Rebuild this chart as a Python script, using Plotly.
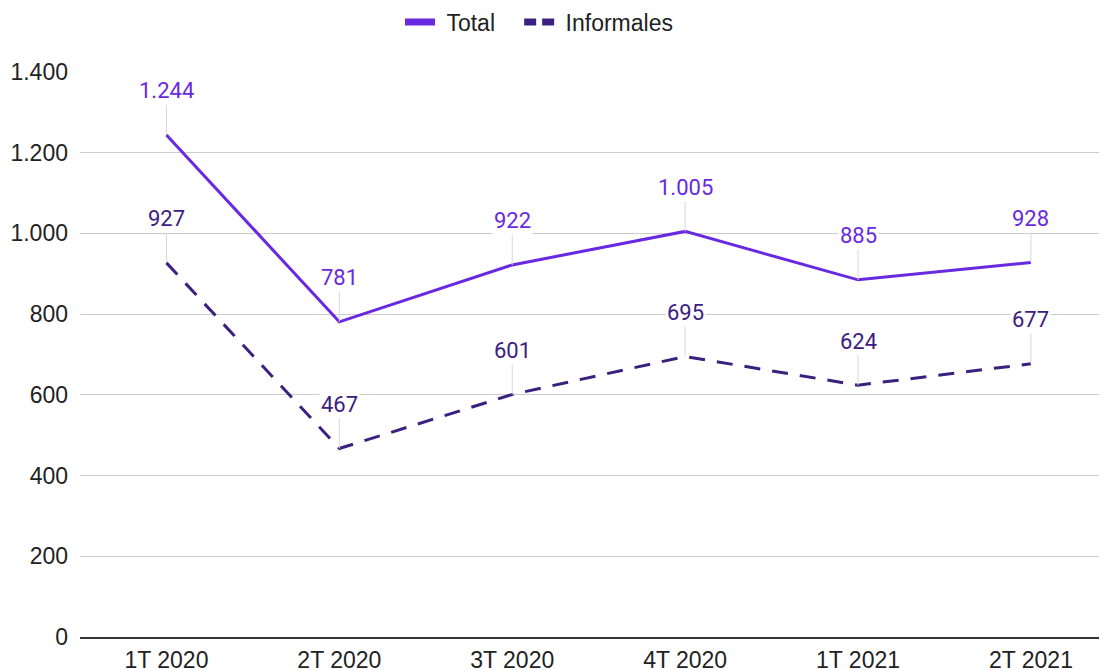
import plotly.graph_objects as go

categories = ["1T 2020", "2T 2020", "3T 2020", "4T 2020", "1T 2021", "2T 2021"]
total = [1244, 781, 922, 1005, 885, 928]
informales = [927, 467, 601, 695, 624, 677]
yticks = [0, 200, 400, 600, 800, 1000, 1200, 1400]

c_total = "#6929E0"
c_inf = "#3C2080"
axis_font = dict(family="Liberation Sans, Arial", size=23, color="#222")

fig = go.Figure()
fig.add_trace(go.Scatter(x=categories, y=total, mode="lines", name="Total",
                         line=dict(color=c_total, width=3), showlegend=False))
fig.add_trace(go.Scatter(x=categories, y=informales, mode="lines", name="Informales",
                         line=dict(color=c_inf, width=3, dash="16px,12px"), showlegend=False))
# legend entries with thick short markers like the reference
fig.add_trace(go.Scatter(x=[None], y=[None], mode="lines", name="\u00a0Total\u00a0\u00a0\u00a0",
                         line=dict(color=c_total, width=7)))
fig.add_trace(go.Scatter(x=[None], y=[None], mode="lines", name="\u00a0Informales",
                         line=dict(color=c_inf, width=7, dash="12px,6px")))

def fmt(v):
    return f"{v:,}".replace(",", ".")

for series, col in ((total, c_total), (informales, c_inf)):
    for cat, v in zip(categories, series):
        fig.add_annotation(x=cat, y=v, text=fmt(v), showarrow=True, arrowhead=0,
                           arrowwidth=1, arrowcolor="#d8d8d8", ax=0, ay=-44,
                           standoff=0, bgcolor="white", borderpad=1,
                           font=dict(family="Roboto", size=22, color=col))

# page body has an 8px margin; size the figure so it ends at the window edge
fig.update_layout(
    width=1099, height=662,
    margin=dict(l=72, r=0, t=64, b=33, autoexpand=False),
    plot_bgcolor="white", paper_bgcolor="white",
    separators=",.",
    showlegend=True,
    legend=dict(orientation="h", x=0.3567, xanchor="left", xref="container",
                y=1 - 14 / 662, yanchor="middle",
                yref="container", font=axis_font, itemwidth=30,
                bgcolor="rgba(0,0,0,0)"),
    xaxis=dict(range=[-0.5, 5.44], showgrid=False, showline=True, linecolor="#333",
               linewidth=1.5, ticks="", tickfont=axis_font, automargin=False,
               ticklabelstandoff=2),
    yaxis=dict(range=[0, 1400], tickvals=yticks, ticktext=[fmt(v) for v in yticks],
               showgrid=True, gridcolor="#cccccc", gridwidth=1, zeroline=False,
               ticks="", ticklabelstandoff=11, automargin=False, tickfont=axis_font),
)
fig.write_html("out.html")
